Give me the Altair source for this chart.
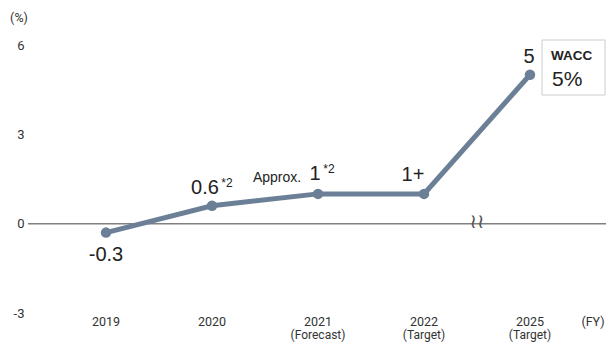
import altair as alt
import pandas as pd

years = ["2019", "2020", "2021", "2022", "2025"]
subs = ["", "", "(Forecast)", "(Target)", "(Target)"]
values = [-0.3, 0.6, 1.0, 1.0, 5.0]
big_labels = ["-0.3", "0.6", "1", "1+", "5"]
sup_labels = ["", "*2", "*2", "", ""]
pre_labels = ["", "", "Approx.", "", ""]
y_ticks = [-3, 0, 3, 6]

df = pd.DataFrame({"i": list(range(len(years))), "year": years, "sub": subs,
                   "v": values, "big": big_labels, "sup": sup_labels, "pre": pre_labels})

LINE = "#6b7f96"
TXT = "#222222"
FONT = "Liberation Sans"
NARROW = "Roboto"

xs = alt.Scale(domain=[-0.736, 4.717])
ys = alt.Scale(domain=[-3, 6])
X = alt.X("i:Q", scale=xs, axis=None)
Y = alt.Y("v:Q", scale=ys, axis=alt.Axis(values=y_ticks, title=None, grid=False, domain=False,
                                         ticks=False, labelPadding=4, labelFontSize=13,
                                         labelColor="#333333", labelFont=NARROW,
                                         labelExpr="datum.value + ''"))

base = alt.Chart(df)

zero = alt.Chart(pd.DataFrame({"v": [0]})).mark_rule(color="#808080", strokeWidth=1.5).encode(y=Y)

brk = alt.Chart(pd.DataFrame({"i": [3.5], "v": [0], "t": ["≀≀"]})).mark_text(
    fontSize=20, color="#555555", font="DejaVu Sans", baseline="middle", align="center", dy=-2
).encode(x=X, y=Y, text="t:N")

line = base.mark_line(color=LINE, strokeWidth=5).encode(x=X, y=Y)
pts = base.mark_circle(color=LINE, size=110, opacity=1).encode(x=X, y=Y)

# per-point label offsets: (dx, dy) for big number, superscript, prefix
offs = {
    0: ((0, 22), None, None),
    1: ((-7, -18), (15, -23), None),
    2: ((-3, -20), (11, -25), (-41, -16)),
    3: ((-11, -19), None, None),
    4: ((-1, -18), None, None),
}

layers = [zero, brk, line, pts]
for k, (b, s, p) in offs.items():
    f = base.transform_filter(alt.datum.i == k)
    layers.append(f.mark_text(fontSize=20, color=TXT, font=FONT, baseline="middle",
                              align="center", dx=b[0], dy=b[1]).encode(x=X, y=Y, text="big:N"))
    if s:
        layers.append(f.mark_text(fontSize=12, color=TXT, font=FONT, baseline="middle",
                                  align="center", dx=s[0], dy=s[1]).encode(x=X, y=Y, text="sup:N"))
    if p:
        layers.append(f.mark_text(fontSize=14, color=TXT, font=FONT, baseline="middle",
                                  align="center", dx=p[0], dy=p[1]).encode(x=X, y=Y, text="pre:N"))

yr = base.mark_text(fontSize=12.5, color="#333333", font=NARROW, baseline="middle",
                    align="center").encode(x=X, y=alt.value(277), text="year:N")
sb = base.mark_text(fontSize=12, color="#333333", font=NARROW, baseline="middle",
                    align="center").encode(x=X, y=alt.value(290), text="sub:N")
fy = alt.Chart(pd.DataFrame({"t": ["(FY)"]})).mark_text(
    fontSize=12.5, color="#333333", font=NARROW, baseline="middle", align="center"
).encode(x=alt.value(565), y=alt.value(277), text="t:N")
pct = alt.Chart(pd.DataFrame({"t": ["(%)"]})).mark_text(
    fontSize=12.5, color="#333333", font=NARROW, baseline="middle", align="center"
).encode(x=alt.value(-9), y=alt.value(-27), text="t:N")

box = alt.Chart(pd.DataFrame({"a": [1]})).mark_rect(fill="white", stroke="#cccccc", strokeWidth=1).encode(
    x=alt.value(514), x2=alt.value(577), y=alt.value(-5), y2=alt.value(50))
wacc = alt.Chart(pd.DataFrame({"t": ["WACC"]})).mark_text(
    fontSize=13.5, fontWeight="bold", color=TXT, font=FONT, baseline="middle", align="left"
).encode(x=alt.value(523), y=alt.value(11), text="t:N")
w5 = alt.Chart(pd.DataFrame({"t": ["5%"]})).mark_text(
    fontSize=21, color=TXT, font=FONT, baseline="middle", align="left"
).encode(x=alt.value(524), y=alt.value(35), text="t:N")

layers += [yr, sb, fy, pct, box, wacc, w5]

chart = alt.layer(*layers).properties(
    width=578, height=268,
    autosize=alt.AutoSizeParams(type="none"),
    padding={"left": 20, "top": 37, "right": 0, "bottom": 30},
).configure_view(stroke=None)

chart.save("out.html", embed_options={"renderer": "svg", "actions": False})
